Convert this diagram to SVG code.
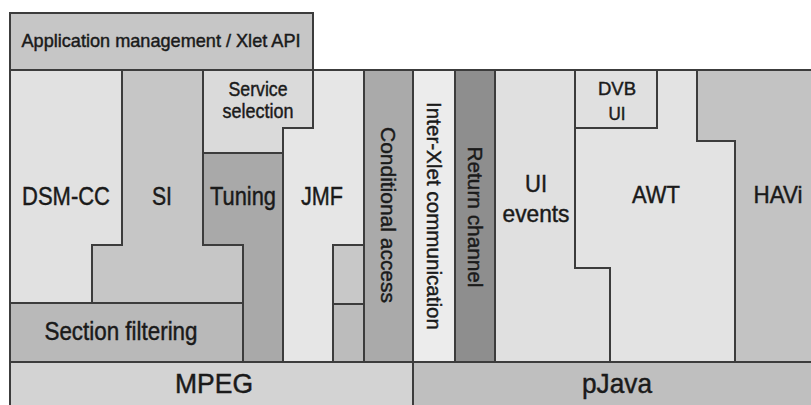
<svg xmlns="http://www.w3.org/2000/svg" width="811" height="405" viewBox="0 0 811 405">
<style>
.b{stroke:#3c3c3c;stroke-width:2;stroke-linejoin:miter}
.t{font-family:"Liberation Sans",Arial,sans-serif;fill:#1a1a1a;stroke:#1a1a1a;stroke-width:0.45;text-anchor:middle}
</style>
<rect width="811" height="405" fill="#ffffff"/>
<g id="app-management"><rect class="b" x="10" y="13" width="303" height="57" fill="#c6c6c6"/>
<text class="t" x="161" y="47" font-size="19" textLength="279" lengthAdjust="spacingAndGlyphs">Application management / Xlet API</text></g>
<g id="dsm-cc"><polygon class="b" points="10,70 122,70 122,245 92,245 92,303 10,303" fill="#e1e1e1"/>
<text class="t" x="66" y="205" font-size="26" textLength="88" lengthAdjust="spacingAndGlyphs">DSM-CC</text></g>
<g id="si"><polygon class="b" points="122,70 203,70 203,245 243,245 243,303 92,303 92,245 122,245" fill="#c6c6c6"/>
<text class="t" x="162" y="205" font-size="26" textLength="20" lengthAdjust="spacingAndGlyphs">SI</text></g>
<g id="service-selection"><polygon class="b" points="203,70 313,70 313,128 283,128 283,153 203,153" fill="#dadada"/>
<text class="t" x="258" y="96" font-size="21" textLength="59" lengthAdjust="spacingAndGlyphs">Service</text>
<text class="t" x="258" y="118" font-size="21" textLength="71" lengthAdjust="spacingAndGlyphs">selection</text></g>
<g id="tuning"><polygon class="b" points="203,153 283,153 283,362 243,362 243,245 203,245" fill="#a9a9a9"/>
<text class="t" x="243" y="205" font-size="26" textLength="66" lengthAdjust="spacingAndGlyphs">Tuning</text></g>
<g id="jmf"><polygon class="b" points="313,70 364,70 364,362 283,362 283,128 313,128" fill="#e6e6e6"/>
<text class="t" x="322" y="205" font-size="26" textLength="42" lengthAdjust="spacingAndGlyphs">JMF</text></g>
<g id="jmf-box-1"><rect class="b" x="333" y="245" width="31" height="59" fill="#c8c8c8"/></g>
<g id="jmf-box-2"><rect class="b" x="333" y="304" width="31" height="58" fill="#bcbcbc"/></g>
<g id="section-filtering"><rect class="b" x="10" y="303" width="233" height="59" fill="#b9b9b9"/>
<text class="t" x="121" y="340" font-size="25" textLength="153" lengthAdjust="spacingAndGlyphs">Section filtering</text></g>
<g id="conditional-access"><rect class="b" x="364" y="70" width="49" height="292" fill="#aaaaaa"/>
<text class="t" transform="translate(381,215) rotate(90)" font-size="21" textLength="176" lengthAdjust="spacingAndGlyphs">Conditional access</text></g>
<g id="inter-xlet"><rect class="b" x="413" y="70" width="42" height="292" fill="#ececec"/>
<text class="t" transform="translate(427,216) rotate(90)" font-size="21" textLength="228" lengthAdjust="spacingAndGlyphs">Inter-Xlet communication</text></g>
<g id="return-channel"><rect class="b" x="455" y="70" width="40" height="292" fill="#8e8e8e"/>
<text class="t" transform="translate(468,217) rotate(90)" font-size="21" textLength="141" lengthAdjust="spacingAndGlyphs">Return channel</text></g>
<g id="ui-events"><polygon class="b" points="495,70 575,70 575,268 610,268 610,362 495,362" fill="#e0e0e0"/>
<text class="t" x="536" y="192" font-size="24" textLength="22" lengthAdjust="spacingAndGlyphs">UI</text>
<text class="t" x="536" y="222" font-size="24" textLength="67" lengthAdjust="spacingAndGlyphs">events</text></g>
<g id="dvb-ui"><rect class="b" x="575" y="70" width="82" height="58" fill="#e0e0e0"/>
<text class="t" x="617" y="95" font-size="18" textLength="38" lengthAdjust="spacingAndGlyphs">DVB</text>
<text class="t" x="617" y="120" font-size="18" textLength="17" lengthAdjust="spacingAndGlyphs">UI</text></g>
<g id="awt"><polygon class="b" points="575,128 657,128 657,70 697,70 697,141 735,141 735,362 610,362 610,268 575,268" fill="#e3e3e3"/>
<text class="t" x="656" y="203" font-size="24" textLength="48" lengthAdjust="spacingAndGlyphs">AWT</text></g>
<g id="havi"><polygon class="b" points="697,70 812,70 812,362 735,362 735,141 697,141" fill="#c3c3c3"/>
<text class="t" x="778" y="203" font-size="24" textLength="49" lengthAdjust="spacingAndGlyphs">HAVi</text></g>
<g id="mpeg"><rect class="b" x="10" y="362" width="403" height="46" fill="#d3d3d3"/>
<text class="t" x="214" y="393" font-size="28" textLength="78" lengthAdjust="spacingAndGlyphs">MPEG</text></g>
<g id="pjava"><rect class="b" x="413" y="362" width="400" height="46" fill="#bfbfbf"/>
<text class="t" x="617" y="393" font-size="28" textLength="70" lengthAdjust="spacingAndGlyphs">pJava</text></g>
<g id="connectors"></g>
</svg>
